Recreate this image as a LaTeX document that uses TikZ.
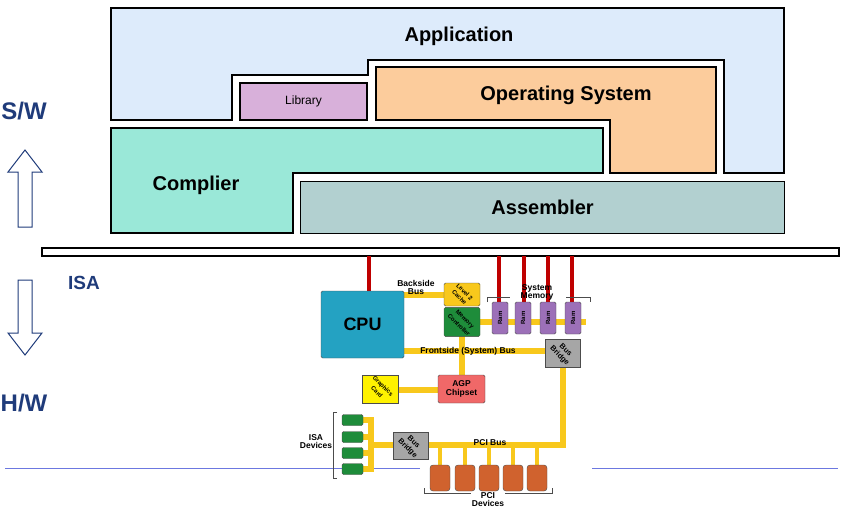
\documentclass[tikz,border=0pt]{standalone}
\usepackage{fontspec}
\setmainfont{Liberation Sans}
\usetikzlibrary{positioning}

\definecolor{appblue}{HTML}{DDEBFB}
\definecolor{libpurple}{HTML}{D8B0DA}
\definecolor{osorange}{HTML}{FCCC9C}
\definecolor{compgreen}{HTML}{9AE8D8}
\definecolor{asmgray}{HTML}{B2D0D0}
\definecolor{sidetext}{HTML}{1F3B7A}
\definecolor{cpublue}{HTML}{24A2C2}
\definecolor{busyellow}{HTML}{F8C81C}
\definecolor{ramviolet}{HTML}{9C70B8}
\definecolor{memgreen}{HTML}{1E8C3A}
\definecolor{agpred}{HTML}{F06868}
\definecolor{pcibrown}{HTML}{D0622E}
\definecolor{wireblue}{HTML}{6C78E0}

\tikzset{
  layer/.style={draw=black, line width=1.2pt},
  bigtext/.style={font=\bfseries\fontsize{20}{20}\selectfont},
  hwbox/.style={draw=black!70, rounded corners=1.5pt, inner sep=0pt,
    font=\bfseries\fontsize{6}{6}\selectfont, align=center},
  bus/.style={busyellow, line width=6pt},
  riser/.style={red!75!black, line width=4pt},
  brack/.style={draw=black!70, line width=0.8pt},
  tiny/.style={font=\bfseries\fontsize{8.5}{8}\selectfont, align=center}
}

\begin{document}
\begin{tikzpicture}[x=1pt, y=-1pt]
\useasboundingbox (0,0) rectangle (853,511);

% software layers
\draw[layer, fill=appblue] (111,8) -- (784,8) -- (784,173) -- (724,173) -- (724,60)
  -- (368,60) -- (368,75) -- (232,75) -- (232,120) -- (111,120) -- cycle;
\draw[layer, fill=osorange] (376,67) -- (716,67) -- (716,173) -- (610,173)
  -- (610,120) -- (376,120) -- cycle;
\draw[layer, fill=compgreen] (111,128) -- (603,128) -- (603,173) -- (293,173)
  -- (293,233) -- (111,233) -- cycle;
\node[layer, fill=libpurple, minimum width=127pt, minimum height=37pt,
  font=\fontsize{12}{12}\selectfont] (lib) at (303.5,101.5) {Library};
\node[layer, fill=asmgray, minimum width=484pt, minimum height=52pt, anchor=north west,
  bigtext] (asm) at (300,181) {Assembler};
\node[bigtext] (app) at (459,36) {Application};
\node[bigtext] (os) at (566,95) {Operating System};
\node[bigtext] (comp) at (196,185) {Complier};

% ISA boundary
\draw[black, line width=1.5pt, fill=white] (42,248) rectangle (839,256);
\draw[wireblue, line width=1pt] (5,468) -- (420,468);
\draw[wireblue, line width=1pt] (592,468) -- (838,468);

% side labels and arrows
\node[text=sidetext, font=\bfseries\fontsize{24}{24}\selectfont] (sw) at (24,111) {S/W};
\node[text=sidetext, font=\bfseries\fontsize{24}{24}\selectfont] (hw) at (24,403) {H/W};
\node[text=sidetext, font=\bfseries\fontsize{19}{19}\selectfont] (isa) at (84,283) {ISA};
\draw[sidetext, line width=1pt] (25,150) -- (42,172) -- (32,172) -- (32,227) -- (18,227)
  -- (18,172) -- (8,172) -- cycle;
\draw[sidetext, line width=1pt] (25,355) -- (42,333) -- (32,333) -- (32,280) -- (18,280)
  -- (18,333) -- (8,333) -- cycle;

% buses
\draw[riser] (369,256) -- (369,292);
\foreach \x in {499,524,548,572}
  \draw[riser] (\x,256) -- (\x,306);
\draw[bus] (404,295) -- (444,295);
\draw[bus] (480,322) -- (586,322);
\draw[bus] (404,351) -- (546,351);
\draw[bus] (462,334) -- (462,376);
\draw[bus] (398,390) -- (438,390);
\draw[bus] (563,362) -- (563,445) -- (428,445);
\draw[bus] (371,420) -- (371,469);
\draw[bus] (363,420) -- (374,420);
\draw[bus] (363,437) -- (374,437);
\draw[bus] (363,453) -- (374,453);
\draw[bus] (363,469) -- (374,469);
\draw[bus] (371,445) -- (393,445);
\foreach \x in {440,465,489,513,537}
  \draw[bus, line width=4pt] (\x,445) -- (\x,466);

% hardware boxes
\node[hwbox, fill=cpublue, minimum width=83pt, minimum height=67pt,
  font=\bfseries\fontsize{18}{18}\selectfont] (cpu) at (362.5,324.5) {CPU};
\node[hwbox, fill=busyellow, minimum width=36pt, minimum height=23pt] (cache)
  at (462,294.5) {\rotatebox{-45}{\shortstack{Level 2\\Cache}}};
\node[hwbox, fill=memgreen, minimum width=36pt, minimum height=24pt] (memctl)
  at (462,322) {\rotatebox{-45}{\shortstack{Memory\\Controller}}};
\foreach \x [count=\i] in {500,523,548,573}
  \node[hwbox, fill=ramviolet, minimum width=16pt, minimum height=32pt] (ram\i)
    at (\x,318) {\rotatebox{90}{Ram}};
\node[hwbox, fill=gray!70, rounded corners=0pt, minimum width=35pt, minimum height=20pt,
  font=\bfseries\fontsize{7.5}{7}\selectfont]
  (bridgeA) at (562.5,353) {\rotatebox{-45}{\shortstack{Bus\\Bridge}}};
\node[hwbox, fill=agpred, minimum width=47pt, minimum height=28pt,
  font=\bfseries\fontsize{8.5}{8.5}\selectfont] (agp) at (461.5,389) {AGP\\Chipset};
\node[hwbox, fill=yellow, rounded corners=0pt, minimum width=36pt, minimum height=22pt]
  (gfx) at (380,389) {\rotatebox{-45}{\shortstack{Graphics\\Card}}};
\node[hwbox, fill=gray!70, rounded corners=0pt, minimum width=35pt, minimum height=23pt,
  font=\bfseries\fontsize{7.5}{7}\selectfont]
  (bridgeB) at (410.5,445.5) {\rotatebox{-45}{\shortstack{Bus\\Bridge}}};
\foreach \y [count=\i] in {420,437,453,469}
  \node[hwbox, fill=memgreen, minimum width=21pt, minimum height=11pt] (isadev\i)
    at (352.5,\y) {};
\foreach \x [count=\i] in {440,465,489,513,537}
  \node[hwbox, fill=pcibrown, minimum width=20pt, minimum height=26pt, rounded corners=3pt]
    (pcidev\i) at (\x,478) {};

% brackets and bus labels
\draw[brack] (487,302) -- (487,297) -- (510,297);
\draw[brack] (566,297) -- (590,297) -- (590,302);
\draw[brack] (337,412) -- (333,412) -- (333,478) -- (337,478);
\draw[brack] (424,488) -- (424,493) -- (552,493) -- (552,488);
\node[tiny] (sysmem) at (537,292) {System\\Memory};
\node[tiny] (bsb) at (416,287) {Backside\\Bus};
\node[tiny] (fsb) at (468,351) {Frontside (System) Bus};
\node[tiny] (pcibus) at (490,443) {PCI Bus};
\node[tiny, fill=white, inner sep=1pt] (isalbl) at (316,442) {ISA\\Devices};
\node[tiny, fill=white, inner sep=1pt] (pcilbl) at (488,500) {PCI\\Devices};
\end{tikzpicture}
\end{document}
